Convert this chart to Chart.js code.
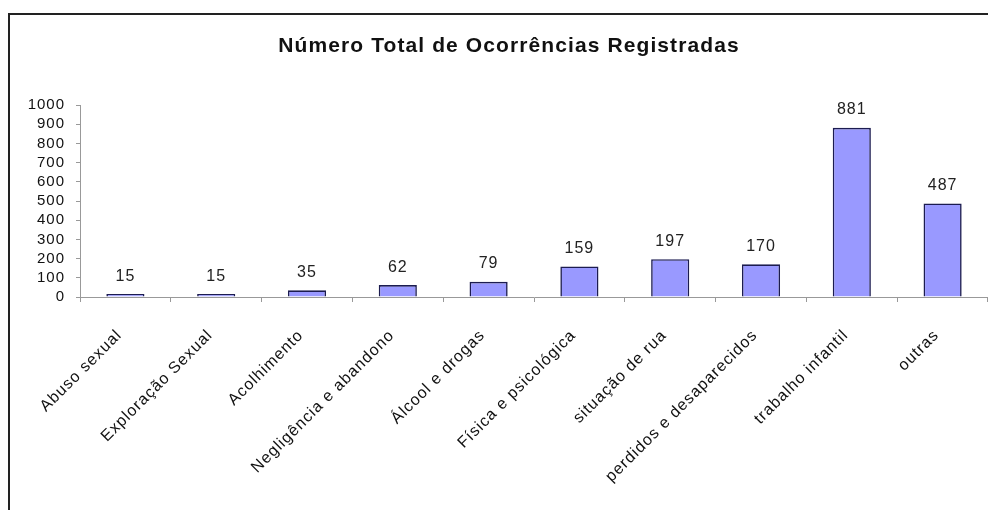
<!DOCTYPE html>
<html lang="pt">
  <head>
    <meta charset="UTF-8">
    <title>Número Total de Ocorrências Registradas</title>
    <script src="https://cdn.jsdelivr.net/npm/chart.js"></script>
    <style>
      html, body { margin: 0; padding: 0; background: #fff; }
      #wrap { width: 988px; height: 510px; position: relative; }
    </style>
  </head>
  <body>
    <div id="wrap"><canvas id="ocorrencias"></canvas></div>
    <script>
      var categorias = ['Abuso sexual', 'Exploração Sexual', 'Acolhimento', 'Negligência e abandono',
        'Álcool e drogas', 'Física e psicológica', 'situação de rua', 'perdidos e desaparecidos',
        'trabalho infantil', 'outras'];
      var ocorrencias = [15, 15, 35, 62, 79, 159, 197, 170, 881, 487];
      var titulo = 'Número Total de Ocorrências Registradas';

      // moldura + titulo + valores em cima das barras
      var extras = {
        id: 'extras',
        beforeDraw: function(chart) {
          var c = chart.ctx;
          c.save();
          c.strokeStyle = '#222';
          c.lineWidth = 2;
          c.beginPath();
          c.moveTo(9, 510);
          c.lineTo(9, 14);
          c.lineTo(988, 14);
          c.stroke();
          c.fillStyle = '#111';
          c.font = 'bold 21px "Liberation Sans", Arial, sans-serif';
          c.letterSpacing = '1.1px';
          c.textAlign = 'center';
          c.textBaseline = 'middle';
          c.fillText(titulo, 509, 46);
          c.restore();
          // texto do original e meio "esticado" na horizontal
          c.letterSpacing = '1px';
        },
        afterDatasetsDraw: function(chart) {
          var c = chart.ctx;
          var meta = chart.getDatasetMeta(0);
          c.save();
          c.fillStyle = '#222';
          c.font = '16px "Liberation Sans", Arial, sans-serif';
          c.textAlign = 'center';
          c.textBaseline = 'middle';
          meta.data.forEach(function(bar, i) {
            c.fillText(ocorrencias[i], bar.x, bar.y - 18);
          });
          c.restore();
        }
      };

      Chart.defaults.font.family = '"Liberation Sans", Arial, sans-serif';
      Chart.defaults.color = '#111';

      new Chart(document.getElementById('ocorrencias').getContext('2d'), {
        type: 'bar',
        data: {
          labels: categorias,
          datasets: [{
            data: ocorrencias,
            backgroundColor: '#9999ff',
            borderColor: '#1c1c50',
            borderWidth: 1.6,
            barPercentage: 0.84,
            categoryPercentage: 0.5
          }]
        },
        options: {
          responsive: true,
          maintainAspectRatio: false,
          animation: false,
          layout: { padding: { top: 105, left: 0, right: 0, bottom: 0 } },
          plugins: {
            legend: { display: false },
            tooltip: { enabled: false }
          },
          scales: {
            x: {
              offset: true,
              grid: { display: true, drawOnChartArea: false, offset: true, tickLength: 5, color: '#999' },
              border: { color: '#999', width: 1 },
              ticks: { minRotation: 45, maxRotation: 45, autoSkip: false, font: { size: 16 }, padding: 24, labelOffset: -6 },
              afterFit: function(s) { s.height = 213; }
            },
            y: {
              min: 0,
              max: 1000,
              grid: { display: true, drawOnChartArea: false, tickLength: 4, color: '#999' },
              border: { color: '#999', width: 1 },
              ticks: {
                stepSize: 100, autoSkip: false, font: { size: 15 }, padding: 11,
                callback: function(v) { return String(v); }
              },
              afterFit: function(s) { s.width = 80; }
            }
          }
        },
        plugins: [extras]
      });
    </script>
  </body>
</html>
